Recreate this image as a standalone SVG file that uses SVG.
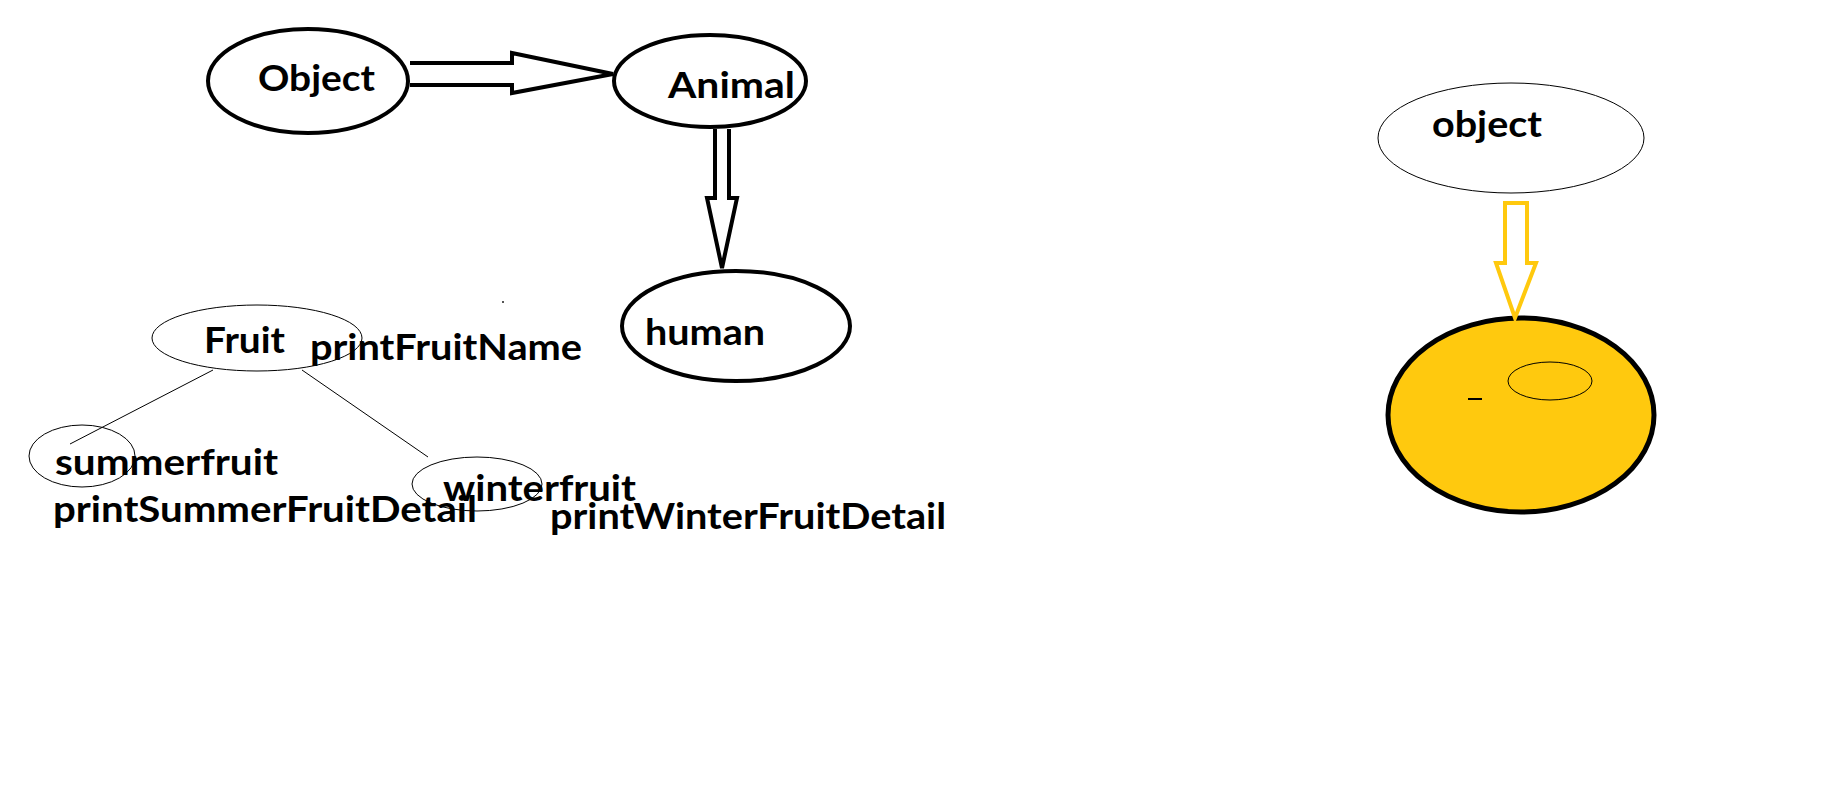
<svg xmlns="http://www.w3.org/2000/svg" width="1834" height="812" viewBox="0 0 1834 812">
<style>
.bg{fill:#ffffff}
.thick{fill:#ffffff;stroke:#000;stroke-width:4}
.thin{fill:none;stroke:#000;stroke-width:1}
.arrow{fill:#ffffff;stroke:#000;stroke-width:4;stroke-linejoin:miter}
.yarrow{fill:#ffffff;stroke:#FFC90E;stroke-width:4;stroke-linejoin:miter}
.line{stroke:#000;stroke-width:1;fill:none}
.lbl{font-family:Lato,"Open Sans","Liberation Sans",sans-serif;font-weight:bold;font-size:36px;fill:#000}
</style>
<rect class="bg" x="0" y="0" width="1834" height="812"/>
<g id="node-object-left">
<ellipse class="thick" cx="308" cy="81" rx="100" ry="52"/>
<text class="lbl" x="258" y="91" textLength="117" lengthAdjust="spacingAndGlyphs">Object</text>
</g>
<g id="node-animal">
<ellipse class="thick" cx="710" cy="81" rx="96" ry="46"/>
<text class="lbl" x="668" y="98" textLength="127" lengthAdjust="spacingAndGlyphs">Animal</text>
</g>
<g id="node-human">
<ellipse class="thick" cx="736" cy="326" rx="114" ry="55"/>
<text class="lbl" x="645" y="345" textLength="120" lengthAdjust="spacingAndGlyphs">human</text>
</g>
<g id="node-fruit">
<text class="lbl" x="204" y="353" textLength="81" lengthAdjust="spacingAndGlyphs">Fruit</text>
<text class="lbl" x="310" y="360" textLength="272" lengthAdjust="spacingAndGlyphs">printFruitName</text>
<ellipse class="thin" cx="257" cy="338" rx="105" ry="33"/>
</g>
<g id="node-summerfruit">
<text class="lbl" x="55" y="475" textLength="223" lengthAdjust="spacingAndGlyphs">summerfruit</text>
<text class="lbl" x="53" y="522" textLength="424" lengthAdjust="spacingAndGlyphs">printSummerFruitDetail</text>
<ellipse class="thin" cx="82" cy="456" rx="53" ry="31"/>
</g>
<g id="node-winterfruit">
<text class="lbl" x="443" y="501" textLength="193" lengthAdjust="spacingAndGlyphs">winterfruit</text>
<text class="lbl" x="550" y="529" textLength="396" lengthAdjust="spacingAndGlyphs">printWinterFruitDetail</text>
<ellipse class="thin" cx="477" cy="484" rx="65" ry="27"/>
</g>
<g id="node-object-right">
<ellipse class="thin" cx="1511" cy="138" rx="133" ry="55"/>
<text class="lbl" x="1432" y="137" textLength="110" lengthAdjust="spacingAndGlyphs">object</text>
</g>
<g id="node-yellow">
<ellipse cx="1521" cy="415" rx="133" ry="97" fill="#FFC90E" stroke="#000" stroke-width="5"/>
<ellipse class="thin" cx="1550" cy="381" rx="42" ry="19"/>
<line x1="1468" y1="399" x2="1482" y2="399" stroke="#000" stroke-width="2"/>
</g>
<rect x="502" y="301" width="2" height="2" fill="#555"/>
<g id="connectors">
<polyline class="arrow" points="410,63 512,63 512,53 613,74 512,93 512,85 410,85"/>
<polyline class="arrow" points="715,129 715,198 707,198 722,268 737,198 729,198 729,129"/>
<polygon class="yarrow" points="1505,203 1527,203 1527,263 1536,263 1515,318 1496,263 1505,263"/>
<line class="line" x1="213" y1="370" x2="70" y2="444"/>
<line class="line" x1="302" y1="370" x2="428" y2="457"/>
</g>
</svg>
